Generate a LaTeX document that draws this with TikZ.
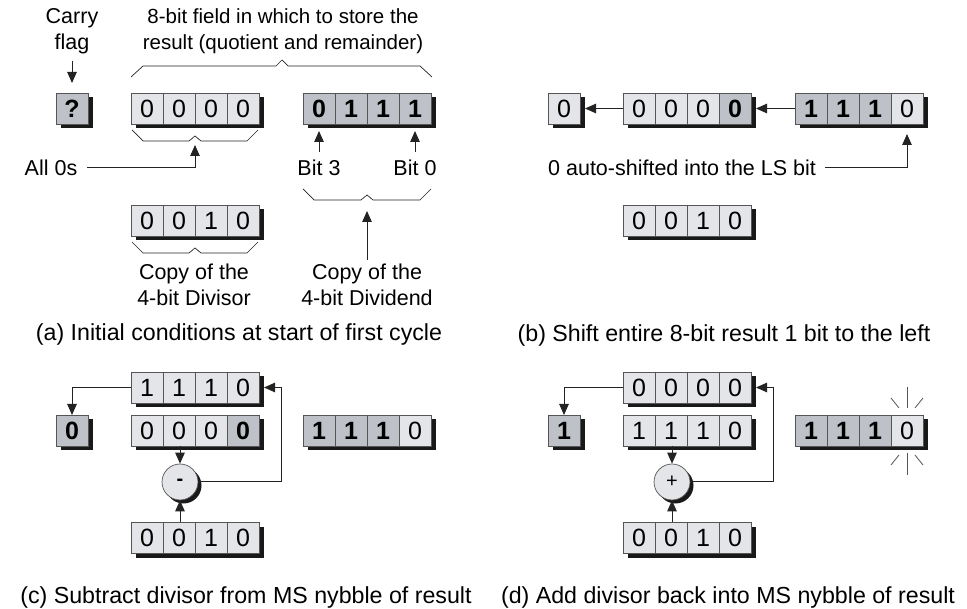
\documentclass[tikz,border=0pt]{standalone}
\usepackage{fontspec}
\setmainfont{Liberation Sans}
\usetikzlibrary{arrows.meta}
\definecolor{lite}{RGB}{228,229,232}
\definecolor{dark}{RGB}{190,193,199}
\definecolor{edge}{RGB}{85,85,85}
\definecolor{ink}{RGB}{35,35,35}
\definecolor{shad}{RGB}{25,25,25}
\newcommand\regbox[5]{%
  \pgfmathsetmacro\regw{#2*32}%
  \fill[shad] (#3+4.5,#4+4.5) rectangle ++(\regw,31);
  \node[minimum width=\regw pt, minimum height=31pt, inner sep=0pt, outer sep=0pt, anchor=north west] (#1) at (#3,#4) {};
  \foreach [count=\i] \s/\t in {#5} {
    \node[cell,\s] (#1-\i) at ({#3+(\i-1)*32},#4) {\t};
  }%
}
\begin{document}
\begin{tikzpicture}[x=1pt,y=-1pt,
  txt/.style={font=\fontsize{21.5}{26}\selectfont, inner sep=0pt, align=center},
  captxt/.style={font=\fontsize{23.2}{28}\selectfont, inner sep=0pt},
  cell/.style={draw=edge, line width=0.7pt, minimum width=32pt, minimum height=31pt, inner sep=0pt, outer sep=0pt, anchor=north west, font=\fontsize{25}{25}\selectfont},
  L/.style={fill=lite},
  D/.style={fill=dark, font=\fontsize{25}{25}\selectfont\bfseries},
  arr/.style={draw=ink, line width=1pt, -{Triangle[length=11pt,width=9.5pt]}},
  brace/.style={draw=ink, line width=0.7pt},
  spark/.style={draw=edge, line width=0.8pt},
  opc/.style={circle, draw=edge, line width=0.7pt, fill=lite, minimum size=36pt, inner sep=0pt, font=\fontsize{20}{20}\selectfont},
]
\useasboundingbox (0,0) rectangle (967,609);

% ---------------- (a) ----------------
\node[txt] (carry) at (72,31) {Carry\\flag};
\node[txt, font=\fontsize{20.5}{26}\selectfont] (field) at (283,31) {8-bit field in which to store the\\result (quotient and remainder)};
\regbox{aq}{1}{56}{93}{D/?}
\regbox{ams}{4}{131}{93}{L/0,L/0,L/0,L/0}
\regbox{als}{4}{303}{93}{D/0,D/1,D/1,D/1}
\coordinate (cft) at (72,61);
\draw[arr] (cft) -- ([yshift=10pt]aq.north);
\draw[brace] (131,77) -- (143,66) -- (276,66) -- (282,60) -- (288,66) -- (420,66) -- (432,77);
\draw[brace] (132,130) -- (143,141) -- (189,141) -- (195,136) -- (201,141) -- (247,141) -- (258,130);
\coordinate (n1) at (195,145);
\node[txt] (all0) at (51,168) {All 0s};
\draw[arr] ([xshift=10pt]all0.east) -| (n1);
\node[txt] (bit3) at (319,168) {Bit 3};
\node[txt] (bit0) at (415,168) {Bit 0};
\draw[arr] ([yshift=8pt]bit3.north) -- ([yshift=-7pt]als-1.south);
\draw[arr] ([yshift=8pt]bit0.north) -- ([yshift=-7pt]als-4.south);
\draw[brace] (303,189) -- (314,200) -- (361,200) -- (367,195) -- (373,200) -- (420,200) -- (431,189);
\coordinate (n2) at (367,211);
\regbox{adiv}{4}{131}{205}{L/0,L/0,L/1,L/0}
\draw[brace] (132,242) -- (143,253) -- (189,253) -- (195,248) -- (201,253) -- (247,253) -- (258,242);
\node[txt] (cpv) at (194,285) {Copy of the\\4-bit Divisor};
\node[txt] (cpd) at (367,285) {Copy of the\\4-bit Dividend};
\draw[arr] ([yshift=4pt]cpd.north) -- (n2);
\node[captxt] (capa) at (239,335) {(a) Initial conditions at start of first cycle};

% ---------------- (b) ----------------
\regbox{bc}{1}{548}{93}{L/0}
\regbox{bms}{4}{623}{93}{L/0,L/0,L/0,D/0}
\regbox{bls}{4}{795}{93}{D/1,D/1,D/1,L/0}
\draw[arr] (bms.west) -- ([xshift=5pt]bc.east);
\draw[arr] (bls.west) -- ([xshift=5pt]bms.east);
\node[txt, anchor=west] (auto) at (548,168) {0 auto-shifted into the LS bit};
\draw[arr] ([xshift=9pt]auto.east) -| ([yshift=-10pt]bls-4.south);
\regbox{bdiv}{4}{623}{205}{L/0,L/0,L/1,L/0}
\node[captxt] (capb) at (724,335) {(b) Shift entire 8-bit result 1 bit to the left};

% ---------------- (c) ----------------
\regbox{ctop}{4}{131}{372}{L/1,L/1,L/1,L/0}
\regbox{cc}{1}{56}{415}{D/0}
\regbox{cms}{4}{131}{415}{L/0,L/0,L/0,D/0}
\regbox{cls}{4}{303}{415}{D/1,D/1,D/1,L/0}
\regbox{cdiv}{4}{131}{522}{L/0,L/0,L/1,L/0}
\fill[shad] (183.5,485.5) circle[radius=18];
\node[opc] (csub) at (180,482) {\textbf{-}};
\draw[arr] (cms.south -| csub) -- (csub.north);
\draw[arr] (cdiv.north -| csub) -- (csub.south);
\draw[arr] (csub.east) -- ++(83,0) |- ([xshift=5pt]ctop.east);
\draw[arr] (ctop.west) -| (cc.north);
\node[captxt] (capc) at (246,598) {(c) Subtract divisor from MS nybble of result};

% ---------------- (d) ----------------
\regbox{dtop}{4}{623}{372}{L/0,L/0,L/0,L/0}
\regbox{dc}{1}{548}{415}{D/1}
\regbox{dms}{4}{623}{415}{L/1,L/1,L/1,L/0}
\regbox{dls}{4}{795}{415}{D/1,D/1,D/1,L/0}
\regbox{ddiv}{4}{623}{522}{L/0,L/0,L/1,L/0}
\fill[shad] (675.5,485.5) circle[radius=18];
\node[opc] (dadd) at (672,482) {+};
\draw[arr] (dms.south -| dadd) -- (dadd.north);
\draw[arr] (ddiv.north -| dadd) -- (dadd.south);
\draw[arr] (dadd.east) -- ++(83,0) |- ([xshift=5pt]dtop.east);
\draw[arr] (dtop.west) -| (dc.north);
\draw[spark] (907,387) -- (907,408);
\draw[spark] (891,398) -- (899,408);
\draw[spark] (923,398) -- (915,408);
\draw[spark] (907,453) -- (907,475);
\draw[spark] (899,455) -- (891,465);
\draw[spark] (915,455) -- (923,465);
\node[captxt] (capd) at (728,598) {(d) Add divisor back into MS nybble of result};
\end{tikzpicture}
\end{document}
